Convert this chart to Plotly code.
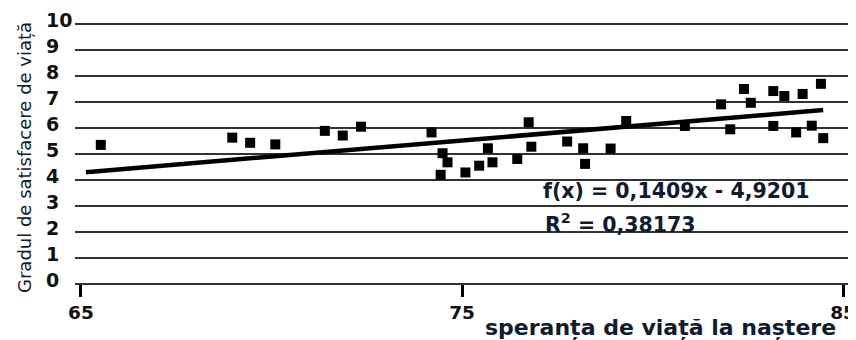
import plotly.graph_objects as go

# Data
life_expectancy = [65.52, 68.97, 69.44, 70.10, 71.40, 71.87, 72.35, 74.20, 74.49, 74.62,
                   74.44, 75.09, 75.45, 75.68, 75.80, 76.45, 76.75, 76.82, 77.76, 78.18,
                   78.23, 78.90, 79.31, 80.85, 81.80, 82.04, 82.40, 82.58, 83.17, 83.17,
                   83.46, 83.77, 83.94, 84.18, 84.42, 84.48]
satisfaction = [5.35, 5.63, 5.43, 5.37, 5.89, 5.71, 6.05, 5.83, 5.03, 4.68,
                4.20, 4.29, 4.55, 5.22, 4.68, 4.81, 6.22, 5.28, 5.48, 5.22,
                4.62, 5.21, 6.27, 6.08, 6.91, 5.95, 7.50, 6.97, 7.42, 6.08,
                7.23, 5.83, 7.31, 6.09, 7.70, 5.61]

# Linear trend line ends, as drawn in the reference
trend_x = [65.13, 84.48]
trend_y = [4.30, 6.69]

x_ticks = [65, 75, 85]
y_ticks = list(range(0, 11))

x_title = "speranța de viață la naștere"
y_title = "Gradul de satisfacere de viață"
eq_text = "f(x) = 0,1409x - 4,9201"
r2_text = "R<sup>2</sup> = 0,38173"

W, H = 856, 340
OFF = 8  # page body margin of the html page
ML, MR, MT, MB = 10, 11, 3, 51
PW = W - ML - MR
PH = H - MT - MB


def sx(px):
    """screen pixel x -> paper x"""
    return (px - OFF - ML) / PW


def sy(py):
    """screen pixel y -> paper y"""
    return (H - MB - (py - OFF)) / PH


FONT = "DejaVu Sans"
TXT = "#0f1a33"

fig = go.Figure()
fig.add_trace(go.Scatter(
    x=life_expectancy, y=satisfaction, mode="markers",
    marker=dict(symbol="square", size=10, color="black", line=dict(width=0)),
    showlegend=False, hoverinfo="skip"))
fig.add_trace(go.Scatter(
    x=trend_x, y=trend_y, mode="lines",
    line=dict(color="black", width=4.5),
    showlegend=False, hoverinfo="skip"))

fig.update_layout(
    width=W, height=H,
    margin=dict(l=ML, r=MR, t=MT, b=MB, pad=0),
    paper_bgcolor="white", plot_bgcolor="white",
    xaxis=dict(
        domain=[sx(75), 1],
        range=[64.843, 85.262],
        anchor="free", position=sy(284),
        tickvals=x_ticks, ticktext=[str(v) for v in x_ticks],
        ticks="outside", ticklen=12, tickwidth=3, tickcolor="black",
        showgrid=False, zeroline=False, showline=False,
        tickfont=dict(family=FONT, size=18.5, color="#111", weight="bold"),
        automargin=False, fixedrange=True),
    yaxis=dict(
        range=[-0.5, 10.5],
        tickvals=y_ticks, ticktext=[str(v) for v in y_ticks],
        anchor="free", position=sx(45), side="right",
        ticklabelposition="outside", ticks="",
        showgrid=True, gridcolor="#333333", gridwidth=1.7,
        zeroline=False, showline=False,
        tickfont=dict(family=FONT, size=19, color="#111", weight="bold"),
        ticklabelshift=-4,
        automargin=False, fixedrange=True),
    annotations=[
        dict(text=y_title, textangle=-90, xref="paper", yref="paper",
             x=sx(24), y=sy(158), xanchor="center", yanchor="middle",
             showarrow=False, font=dict(family=FONT, size=18, color=TXT)),
        dict(text=x_title, xref="paper", yref="paper",
             x=sx(838), y=sy(327.5), xanchor="right", yanchor="middle",
             showarrow=False, font=dict(family=FONT, size=22, color=TXT, weight="bold")),
        dict(text=eq_text, xref="paper", yref="paper",
             x=sx(541), y=sy(191), xanchor="left", yanchor="middle",
             showarrow=False, font=dict(family=FONT, size=20.5, color=TXT, weight="bold")),
        dict(text=r2_text, xref="paper", yref="paper",
             x=sx(543), y=sy(223), xanchor="left", yanchor="middle",
             showarrow=False, font=dict(family=FONT, size=20.5, color=TXT, weight="bold")),
    ],
)

fig.write_html("out.html")
